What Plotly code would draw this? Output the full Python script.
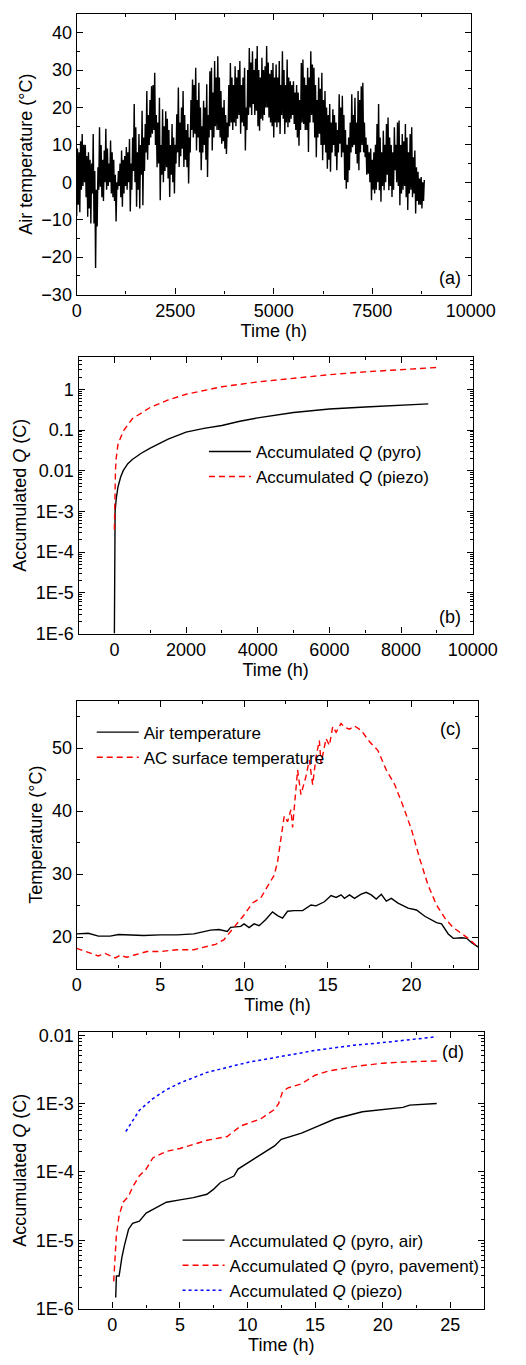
import plotly.graph_objects as go

# ---------------- Data ----------------------------------------
# (a) hourly air temperature over one year. Read as the upper / lower edge of the trace
# every 40 h; the lower value sits at the start of each 40 h slot, the upper one 20 h later.
HOURS_A = list(range(0, 8801, 40))
TEMP_A_HIGH = [
    9, 8, 11, 12.9, 10, 10, 7, 8, 6, 5,
    12.9, 3, -2, 4, 14.7, 10, 6, 8.5, 14.3, 9,
    5, 11.2, 8, 6, 2, 0, 3, 5, 8.5, 6,
    7, 9.4, 8, 11.6, 5, 12, 20.9, 14.7, 8, 12.9,
    10, 19.1, 12, 15.6, 24.4, 18, 22, 25.7, 26, 29.3,
    18, 16, 22.6, 10, 19.5, 15, 19, 17, 14, 10,
    15.6, 12, 10, 18.2, 25.3, 16, 20, 24.4, 18, 14,
    15.6, 12, 22, 27.5, 26, 30.6, 22, 26.6, 20, 15,
    21.8, 20, 26.2, 18, 29.7, 30.6, 24, 32.4, 28, 33.7,
    28, 24.4, 20, 22, 18, 16, 26, 31.9, 28, 26,
    31, 28, 30, 32.4, 26, 28, 30.6, 20, 30, 35.9,
    32, 35, 30, 33, 36.4, 30, 28, 33.3, 30, 31,
    36.4, 32, 29, 30, 31.9, 28, 31.5, 28, 32.4, 26,
    35, 30, 26, 32.8, 28, 27, 26, 27, 24, 26,
    24, 22, 31.9, 32.8, 28, 26, 30.6, 28, 35, 31.5,
    30.6, 26, 22, 28, 25, 29.3, 22, 24.4, 20, 18,
    20.9, 16, 19.5, 18, 16, 14, 23.5, 20, 23.1, 18,
    14, 10, 12, 16, 23.5, 18, 22.6, 16, 24.4, 22,
    25.7, 26.6, 16, 12, 10, 8, 9, 6, 8, 10,
    15.6, 20.9, 12, 8, 13.8, 10, 15.6, 17.3, 12, 10,
    8, 14.7, 10, 16, 16.5, 10, 12.9, 11, 15.6, 12,
    8, 12.9, 14.7, 6.7, 8.5, 4, 2.8, 1, 1.4, 0,
    0.6,
]
TEMP_A_LOW = [
    -9, -6, -8, -2, -1, 0, -4, -9.2, -7, -11,
    -3, -11, -22.9, -11.8, -2, -1.2, -4, -5, 0, -2,
    -1, 0, -3, -4, -5, -10.5, -2, -1, -4, -6.5,
    -3, -1, -2, 0, -7.8, -2, 3, 0, -6.5, -2,
    -7, 2, -6.1, 3, 8, 6, 10, 12, 13, 14,
    10, 4, 5, -4.8, 2, 0, 3, 4, 1, -3.9,
    2, 0, -3, 5, 8, 4.1, 7, 9, 4.1, 6,
    4, -0.3, 8, 14, 12, 13, 8.5, 12, 8, 3.2,
    8, 10, 6, 1.4, 12, 14, 8.5, 12, 15, 14,
    14, 12, 10.3, 11, 9, 7.6, 12, 15, 16, 14,
    16, 15, 17, 18, 13, 16, 15, 8.5, 14, 18,
    20, 18, 20.9, 18, 19.1, 15, 13.8, 17, 16.5, 18,
    20, 20, 17.3, 16, 15, 12, 16, 14.7, 16, 12.9,
    18, 17, 12.9, 16, 14.7, 16, 17, 18, 15.6, 14,
    12, 9.8, 14, 16, 15.6, 14, 14, 8.1, 16, 18,
    16, 12, 6.7, 12, 13, 10, 5.9, 10, 8, 3.6,
    6, 2.8, 8, 10, 7, 3.2, 8, 10.3, 6.7, 8,
    0.6, -1.7, 0, 3.2, 8, 9.4, 10, 7.6, 5, 3.2,
    8, 10, 8, 6.7, 2, 2.3, 0, -4.8, -2, -3,
    -2, 0, -2.1, -5.2, -1, -2.1, 0, 2, -2.1, -1,
    -3.9, -2, 3.2, 0, -1, -6.1, -3, -2, -1, -4,
    -7.4, -3, -2, -4, -3, -8.3, -5, -6, -6, -7,
    -5,
]

# (b) accumulated charge over the year
HOURS_B_PYRO = [0, 10, 20, 50, 100, 175, 250, 375, 500, 750, 1000, 1500, 2000,
                2500, 3000, 3500, 4000, 5000, 6000, 7000, 8000, 8760]
Q_B_PYRO = [1e-6, 3e-4, 1e-3, 2e-3, 4e-3, 7e-3, 0.0102, 0.015, 0.019, 0.027, 0.036,
            0.06, 0.089, 0.11, 0.13, 0.165, 0.2, 0.27, 0.33, 0.37, 0.41, 0.44]
HOURS_B_PIEZO = [0, 10, 30, 50, 100, 250, 500, 1000, 1500, 2000, 3000, 4000,
                 5000, 6000, 7000, 8000, 9000]
Q_B_PIEZO = [3.6e-4, 2.5e-3, 0.01, 0.02, 0.045, 0.095, 0.19, 0.36, 0.55, 0.76,
             1.16, 1.53, 1.88, 2.3, 2.7, 3.05, 3.46]

# (c) one summer day
HOURS_C_AIR = [0, 0.7, 1.3, 2, 2.5, 3.5, 4, 5, 6, 7, 7.5, 8, 8.5, 9, 9.2, 9.8, 10,
               10.3, 10.6, 10.9, 11.3, 11.7, 12, 12.3, 12.6, 13, 13.5, 14, 14.3,
               14.8, 15.2, 15.5, 15.8, 16, 16.3, 16.6, 17, 17.3, 17.6, 17.9, 18.2,
               18.5, 18.8, 19.2, 19.8, 20.3, 20.8, 21.5, 21.8, 22.2, 22.5, 23,
               23.3, 23.6, 24]
TEMP_C_AIR = [20.5, 20.6, 20.15, 20.15, 20.4, 20.3, 20.25, 20.35, 20.35, 20.5, 20.8,
              21.1, 21.2, 20.9, 21.55, 21.7, 22.1, 21.5, 22.1, 21.8, 22.8, 24.0,
              23.4, 23.0, 24.1, 24.2, 24.2, 25.1, 24.95, 25.6, 26.6, 26.3, 26.7,
              26.15, 26.7, 26.15, 26.8, 27.1, 26.7, 26.05, 26.8, 25.7, 26.15,
              25.4, 24.6, 24.3, 23.3, 22.3, 22.1, 20.5, 19.8, 19.9, 19.8, 19.1, 18.4]
HOURS_C_AC = [0, 0.5, 1.3, 1.7, 2.3, 2.6, 3, 3.5, 4.2, 5, 5.5, 6, 7, 7.5, 8.3, 8.8,
              9.2, 9.5, 10, 10.5, 11, 11.3, 11.8, 12, 12.2, 12.4, 12.6, 12.8, 12.9,
              13.1, 13.2, 13.4, 13.7, 13.9, 14.1, 14.3, 14.5, 14.6, 14.9, 15.1,
              15.3, 15.5, 15.8, 16, 16.3, 16.6, 17, 17.5, 18, 18.5, 19, 19.5, 20,
              20.5, 21, 21.5, 22, 22.5, 23, 23.5, 24]
TEMP_C_AC = [18.2, 17.7, 17.0, 17.4, 16.7, 17.1, 16.8, 17.2, 17.7, 17.7, 17.8, 18.0,
             18.0, 18.3, 18.85, 19.6, 20.9, 22.0, 23.5, 25.4, 26.2, 27.6, 29.8,
             31.9, 35.5, 39.2, 38.3, 40.2, 37.4, 43.9, 46.5, 42.6, 45.5, 48.1,
             44.2, 48.6, 51.2, 47.5, 51.5, 50.4, 53.4, 52.5, 53.9, 53.3, 53.0,
             53.5, 52.8, 51.0, 49.6, 46.5, 44.2, 40.8, 37.1, 32.4, 28.2, 25.1,
             23.0, 21.5, 20.5, 19.6, 18.3]

# (d) accumulated charge over that day
HOURS_D_AIR = [0.25, 0.3, 0.5, 0.7, 0.9, 1.2, 1.5, 2, 2.5, 3, 4, 5, 6, 7, 7.5, 8, 9,
               9.3, 10, 11, 12, 12.5, 14, 15, 16.5, 18.5, 20, 21.5, 22, 24]
Q_D_AIR = [1.45e-6, 3e-6, 3e-6, 5.5e-6, 8.5e-6, 1.45e-5, 1.77e-5, 1.9e-5, 2.5e-5,
           2.8e-5, 3.6e-5, 3.9e-5, 4.2e-5, 4.7e-5, 5.6e-5, 7e-5, 8.7e-5, 1.1e-4,
           1.35e-4, 1.8e-4, 2.4e-4, 3e-4, 3.7e-4, 4.5e-4, 6e-4, 7.6e-4, 8.2e-4,
           8.8e-4, 9.5e-4, 1e-3]
HOURS_D_PAVE = [0.1, 0.3, 0.5, 0.8, 1.2, 1.5, 2, 2.5, 3, 4, 5, 6, 7, 8.5, 9.5, 11,
                12, 12.3, 12.6, 13, 14, 15, 16, 18, 20, 22, 24]
Q_D_PAVE = [2.5e-6, 1.2e-5, 2.3e-5, 3.6e-5, 4.4e-5, 6e-5, 8.8e-5, 1.1e-4, 1.6e-4,
            2e-4, 2.2e-4, 2.5e-4, 2.9e-4, 3.3e-4, 4.7e-4, 6e-4, 8.2e-4, 1e-3,
            1.5e-3, 1.7e-3, 1.95e-3, 2.6e-3, 3e-3, 3.5e-3, 3.9e-3, 4.1e-3, 4.2e-3]
HOURS_D_PIEZO = [1, 2, 3, 4, 5, 7, 10, 12, 15, 18, 20, 24]
Q_D_PIEZO = [3.9e-4, 8e-4, 1.18e-3, 1.6e-3, 2e-3, 2.86e-3, 4e-3, 4.7e-3, 6e-3,
             7.2e-3, 7.8e-3, 9.5e-3]

LOG_TICKS_B = [1e-6, 1e-5, 1e-4, 1e-3, 0.01, 0.1, 1]
LOG_TEXT_B = ["1E-6", "1E-5", "1E-4", "1E-3", "0.01", "0.1", "1"]
LOG_TICKS_D = [1e-6, 1e-5, 1e-4, 1e-3, 0.01]
LOG_TEXT_D = ["1E-6", "1E-5", "1E-4", "1E-3", "0.01"]
# ---------------------------------------------------------------

W, H = 526, 1365
FONT = "Liberation Sans, Arial, sans-serif"
RED = "#ff0000"
DASH = "6px,4px"
# drop the default 8 px body margin so the figure fills the window exactly
NO_MARGIN_JS = "document.body.style.margin='0';document.body.style.overflow='hidden';"


def px_x(px):
    return px / W


def px_y(py):
    return 1 - py / H


def xdom(left, right):
    return [px_x(left), px_x(right)]


def ydom(top, bottom):
    return [px_y(bottom), px_y(top)]


def axis_style(**kw):
    style = dict(
        showline=True, linecolor="black", linewidth=1.3, mirror="allticks",
        ticks="inside", ticklen=6, tickwidth=1.2, tickcolor="black",
        showgrid=False, zeroline=False,
        tickfont=dict(size=18, color="black"),
        title_font=dict(size=18, color="black"),
        minor=dict(ticks="inside", ticklen=3, tickwidth=1, tickcolor="black", showgrid=False),
    )
    style.update(kw)
    return style


def log_minor(lo, hi):
    vals = [m * 10.0 ** e for e in range(lo, hi) for m in range(2, 10)]
    return dict(ticks="inside", ticklen=3, tickwidth=1, tickcolor="black",
                showgrid=False, tickmode="array", tickvals=vals)


def interleave_low_high(hours, lows, highs):
    xs, ys = [], []
    for h, lo, hi in zip(hours, lows, highs):
        xs += [h, h + 20]
        ys += [lo, hi]
    return xs, ys


def build_figure():
    fig = go.Figure()

    # (a)
    xa, ya = interleave_low_high(HOURS_A, TEMP_A_LOW, TEMP_A_HIGH)
    fig.add_trace(go.Scatter(x=xa, y=ya, mode="lines", showlegend=False,
                             line=dict(color="black", width=1.4),
                             xaxis="x", yaxis="y"))
    # (b)
    fig.add_trace(go.Scatter(x=HOURS_B_PYRO, y=Q_B_PYRO, mode="lines",
                             name="Accumulated <i>Q</i> (pyro)",
                             line=dict(color="black", width=1.4),
                             xaxis="x2", yaxis="y2", legend="legend"))
    fig.add_trace(go.Scatter(x=HOURS_B_PIEZO, y=Q_B_PIEZO, mode="lines",
                             name="Accumulated <i>Q</i> (piezo)",
                             line=dict(color=RED, width=1.4, dash=DASH),
                             xaxis="x2", yaxis="y2", legend="legend"))
    # (c)
    fig.add_trace(go.Scatter(x=HOURS_C_AIR, y=TEMP_C_AIR, mode="lines",
                             name="Air temperature",
                             line=dict(color="black", width=1.4),
                             xaxis="x3", yaxis="y3", legend="legend2"))
    fig.add_trace(go.Scatter(x=HOURS_C_AC, y=TEMP_C_AC, mode="lines",
                             name="AC surface temperature",
                             line=dict(color=RED, width=1.4, dash=DASH),
                             xaxis="x3", yaxis="y3", legend="legend2"))
    # (d)
    fig.add_trace(go.Scatter(x=HOURS_D_AIR, y=Q_D_AIR, mode="lines",
                             name="Accumulated <i>Q</i> (pyro, air)",
                             line=dict(color="black", width=1.4),
                             xaxis="x4", yaxis="y4", legend="legend3"))
    fig.add_trace(go.Scatter(x=HOURS_D_PAVE, y=Q_D_PAVE, mode="lines",
                             name="Accumulated <i>Q</i> (pyro, pavement)",
                             line=dict(color=RED, width=1.4, dash=DASH),
                             xaxis="x4", yaxis="y4", legend="legend3"))
    fig.add_trace(go.Scatter(x=HOURS_D_PIEZO, y=Q_D_PIEZO, mode="lines",
                             name="Accumulated <i>Q</i> (piezo)",
                             line=dict(color="#0000ff", width=1.5, dash="dot"),
                             xaxis="x4", yaxis="y4", legend="legend3"))

    legend_common = dict(bgcolor="rgba(0,0,0,0)", borderwidth=0, xanchor="left",
                         yanchor="top", font=dict(size=17, color="black"),
                         itemwidth=42, tracegroupgap=0)
    time_title = dict(text="Time (h)", standoff=0)

    fig.update_layout(
        width=W, height=H,
        margin=dict(l=0, r=0, t=0, b=0),
        paper_bgcolor="white", plot_bgcolor="white",
        font=dict(family=FONT, color="black"),
        xaxis=axis_style(domain=xdom(76, 494), anchor="y", range=[0, 10000],
                         dtick=2500, minor_dtick=1250, tickformat="d",
                         title=time_title),
        yaxis=axis_style(domain=ydom(8, 292), anchor="x", range=[-30, 45],
                         dtick=10, minor_dtick=5,
                         title=dict(text="Air temperature (°C)", standoff=4)),
        xaxis2=axis_style(domain=xdom(78, 496), anchor="y2", range=[-1000, 10000],
                          dtick=2000, minor_dtick=1000, tickformat="d",
                          title=time_title),
        yaxis2=axis_style(domain=ydom(355, 635), anchor="x2", type="log",
                          range=[-6, 0.8], tickmode="array",
                          tickvals=LOG_TICKS_B, ticktext=LOG_TEXT_B,
                          minor=log_minor(-6, 1),
                          title=dict(text="Accumulated <i>Q</i> (C)", standoff=4)),
        xaxis3=axis_style(domain=xdom(76, 502), anchor="y3", range=[0, 24],
                          dtick=5, minor_dtick=2.5, tickformat="d",
                          title=time_title),
        yaxis3=axis_style(domain=ydom(703, 974), anchor="x3", range=[15, 57.5],
                          dtick=10, minor_dtick=5,
                          title=dict(text="Temperature (°C)", standoff=4)),
        xaxis4=axis_style(domain=xdom(78, 508), anchor="y4", range=[-2.5, 27.5],
                          dtick=5, minor_dtick=2.5, tickformat="d",
                          title=time_title),
        yaxis4=axis_style(domain=ydom(1038, 1318), anchor="x4", type="log",
                          range=[-6, -1.95], tickmode="array",
                          tickvals=LOG_TICKS_D, ticktext=LOG_TEXT_D,
                          minor=log_minor(-6, -2),
                          title=dict(text="Accumulated <i>Q</i> (C)", standoff=4)),
        legend=dict(legend_common, x=px_x(211), y=px_y(433)),
        legend2=dict(legend_common, x=px_x(92), y=px_y(717)),
        legend3=dict(legend_common, x=px_x(183), y=px_y(1231)),
    )

    labels = [("(a)", 472, 275), ("(b)", 472, 618), ("(c)", 472, 732), ("(d)", 475, 1058)]
    for text, px, py in labels:
        fig.add_annotation(text=text, x=px_x(px), y=px_y(py), xref="paper", yref="paper",
                           showarrow=False, font=dict(size=18, color="black"),
                           xanchor="center", yanchor="middle")
    return fig


def main():
    fig = build_figure()
    fig.write_html("out.html", post_script=NO_MARGIN_JS,
                   config={"displayModeBar": False})


if __name__ == "__main__":
    main()
